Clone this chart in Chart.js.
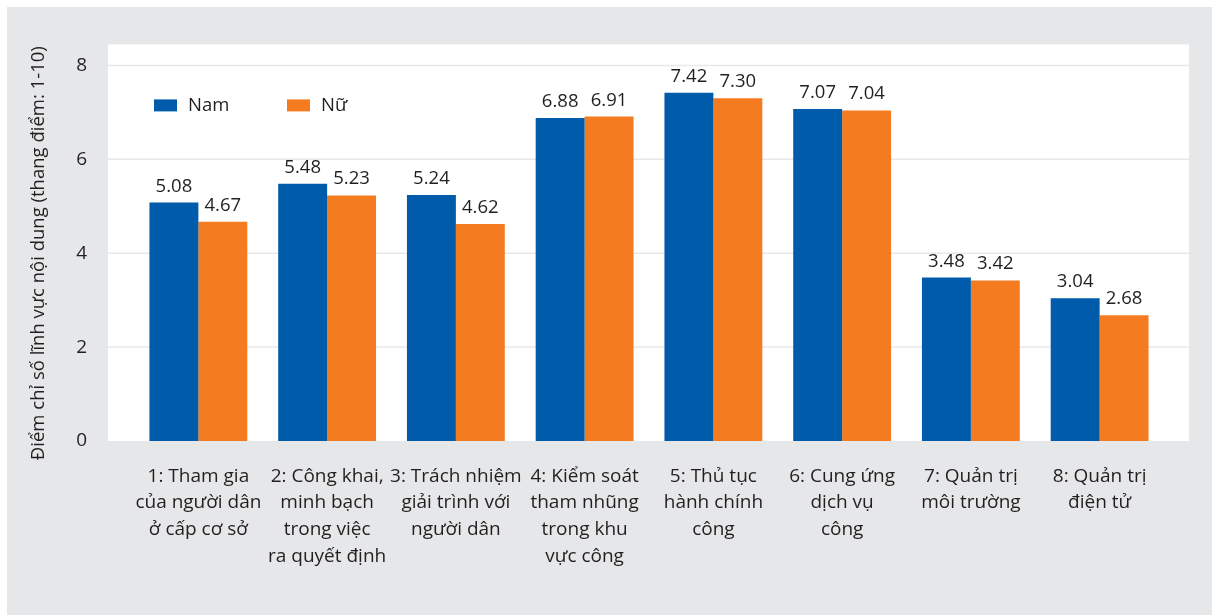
<!DOCTYPE html>
<html lang="vi">
<head>
<meta charset="utf-8">
<title>Điểm chỉ số lĩnh vực nội dung theo giới tính</title>
<script src="https://cdn.jsdelivr.net/npm/chart.js@4.4.1/dist/chart.umd.min.js"></script>
<style>
  html, body { margin: 0; padding: 0; background: #fff; }
  #wrap { position: absolute; left: 7px; top: 7px; width: 1205px; height: 608px; background: #e6e7e8; }
</style>
</head>
<body>
<div id="wrap"><canvas id="genderChart"></canvas></div>
<script>
// Index areas (multi-line labels)
const areas = [
    ['1: Tham gia', 'của người dân', 'ở cấp cơ sở'],
    ['2: Công khai,', 'minh bạch', 'trong việc', 'ra quyết định'],
    ['3: Trách nhiệm', 'giải trình với', 'người dân'],
    ['4: Kiểm soát', 'tham nhũng', 'trong khu', 'vực công'],
    ['5: Thủ tục', 'hành chính', 'công'],
    ['6: Cung ứng', 'dịch vụ', 'công'],
    ['7: Quản trị', 'môi trường'],
    ['8: Quản trị', 'điện tử']
];
const namScores = [5.08, 5.48, 5.24, 6.88, 7.42, 7.07, 3.48, 3.04];
const nuScores = [4.67, 5.23, 4.62, 6.91, 7.30, 7.04, 3.42, 2.68];
const yTicks = [0, 2, 4, 6, 8];

const FONT = '"Open Sans", "Noto Sans", sans-serif';
const TEXT = '#231f20';

// White plot panel plus gridlines spanning its full width
const panelPlugin = {
    id: 'panel',
    beforeDraw(chart) {
        const { ctx, chartArea, scales } = chart;
        const left = chartArea.left - 26, right = chartArea.right + 25;
        ctx.save();
        ctx.fillStyle = '#ffffff';
        ctx.fillRect(left, chartArea.top - 21, right - left, chartArea.bottom - chartArea.top + 21);
        ctx.strokeStyle = '#e8e8e8';
        ctx.lineWidth = 1.5;
        yTicks.forEach(v => {
            if (v === 0) return;
            const y = scales.y.getPixelForValue(v);
            ctx.beginPath();
            ctx.moveTo(left, y);
            ctx.lineTo(right, y);
            ctx.stroke();
        });
        ctx.restore();
    }
};

// Value labels above each bar
const valueLabels = {
    id: 'valueLabels',
    afterDatasetsDraw(chart) {
        const { ctx } = chart;
        ctx.save();
        ctx.font = '18.5px ' + FONT;
        ctx.fillStyle = TEXT;
        ctx.textAlign = 'center';
        ctx.textBaseline = 'bottom';
        chart.data.datasets.forEach((ds, i) => {
            chart.getDatasetMeta(i).data.forEach((bar, j) => {
                ctx.fillText(ds.data[j].toFixed(2), bar.x, bar.y - 7);
            });
        });
        ctx.restore();
    }
};

// Legend inside the plot, top left
const insideLegend = {
    id: 'insideLegend',
    afterDraw(chart) {
        const { ctx, chartArea } = chart;
        const y = chartArea.top + 40;
        const starts = [chartArea.left + 20, chartArea.left + 153];
        ctx.save();
        ctx.font = '18.5px ' + FONT;
        ctx.textBaseline = 'middle';
        chart.data.datasets.forEach((ds, i) => {
            const x = starts[i];
            ctx.fillStyle = ds.backgroundColor;
            ctx.fillRect(x, y - 6, 23, 12);
            ctx.fillStyle = TEXT;
            ctx.fillText(ds.label, x + 34, y);
        });
        ctx.restore();
    }
};

new Chart(document.getElementById('genderChart'), {
    type: 'bar',
    data: {
        labels: areas,
        datasets: [{
            label: 'Nam',
            data: namScores,
            backgroundColor: '#005baa',
            categoryPercentage: 0.76,
            barPercentage: 1
        }, {
            label: 'Nữ',
            data: nuScores,
            backgroundColor: '#f47b20',
            categoryPercentage: 0.76,
            barPercentage: 1
        }]
    },
    options: {
        responsive: true,
        maintainAspectRatio: false,
        animation: false,
        layout: { padding: { left: 0, right: 48, top: 56, bottom: 0 } },
        plugins: {
            legend: { display: false },
            tooltip: { enabled: false }
        },
        scales: {
            x: {
                grid: { display: false, drawTicks: false },
                border: { display: false },
                ticks: {
                    color: TEXT,
                    font: { family: FONT, size: 19, lineHeight: 1.4 },
                    padding: 22,
                    maxRotation: 0,
                    autoSkip: false
                },
                afterFit(scale) { scale.height = 174; }
            },
            y: {
                min: 0,
                max: 8,
                afterBuildTicks(scale) { scale.ticks = yTicks.map(v => ({ value: v })); },
                grid: { display: false, drawTicks: false },
                border: { display: false },
                ticks: {
                    color: TEXT,
                    font: { family: FONT, size: 19 },
                    padding: 47
                },
                title: {
                    display: true,
                    text: 'Điểm chỉ số lĩnh vực nội dung (thang điểm: 1-10)',
                    color: TEXT,
                    font: { family: FONT, size: 18.5 },
                    padding: { top: 21, bottom: 0 }
                },
                afterFit(scale) { scale.width = 127; }
            }
        }
    },
    plugins: [panelPlugin, valueLabels, insideLegend]
});
</script>
</body>
</html>
